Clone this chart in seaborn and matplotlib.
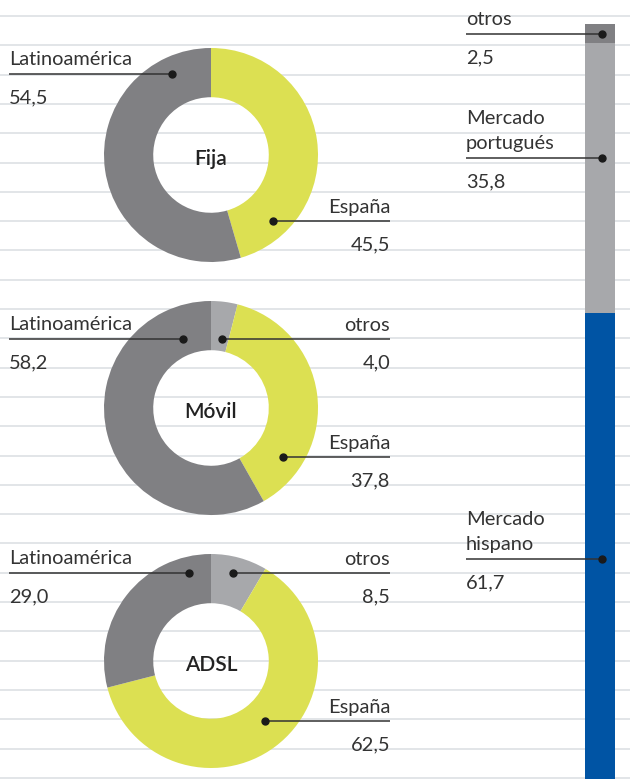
import matplotlib
matplotlib.use("Agg")
import matplotlib.pyplot as plt
import seaborn as sns
import numpy as np
import pandas as pd

# ---------------- data ----------------
donut_titles = ["Fija", "Móvil", "ADSL"]
donut_cats = ["otros", "España", "Latinoamérica"]
fija_vals = [0.0, 45.5, 54.5]
movil_vals = [4.0, 37.8, 58.2]
adsl_vals = [8.5, 62.5, 29.0]
donut_values = [fija_vals, movil_vals, adsl_vals]
donut_value_labels = [["", "45,5", "54,5"], ["4,0", "37,8", "58,2"], ["8,5", "62,5", "29,0"]]

bar_cats = ["Mercado\nhispano", "Mercado\nportugués", "otros"]
bar_vals = [61.7, 35.8, 2.5]
bar_value_labels = ["61,7", "35,8", "2,5"]

# ---------------- style ----------------
sns.set_theme(style="white")
plt.rcParams["font.family"] = ["Lato", "DejaVu Sans"]
TXT = "#333333"
GRID = "#dde0e4"
C_OTROS = "#a7a8ab"
C_ESP = "#dce052"
C_LAT = "#808083"
C_BLUE = "#0054a4"
donut_colors = {"otros": C_OTROS, "España": C_ESP, "Latinoamérica": C_LAT}
bar_colors = [C_BLUE, C_OTROS, C_LAT]

W, H = 630, 783
fig = plt.figure(figsize=(W / 100, H / 100), dpi=100)

def px_axes(x0, y0, w, h, z):
    return fig.add_axes([x0 / W, 1 - (y0 + h) / H, w / W, h / H], zorder=z)

# background grid lines
bg = px_axes(0, 0, W, H, 0)
bg.set_xlim(0, W); bg.set_ylim(H, 0); bg.axis("off")
for i in range(27):
    bg.axhline(16 + i * 29.3, color=GRID, lw=1.2)

# donuts
centers = [(211, 155), (211, 408), (211, 661)]
R = 107
for (cx, cy), vals in zip(centers, donut_values):
    ax = px_axes(cx - R, cy - R, 2 * R, 2 * R, 2)
    vv = [v for v in vals if v > 0]
    cc = [donut_colors[c] for c, v in zip(donut_cats, vals) if v > 0]
    ax.pie(vv, colors=cc, startangle=90, counterclock=False, radius=1,
           wedgeprops=dict(width=0.46, linewidth=0))
    ax.set_xlim(-1, 1); ax.set_ylim(-1, 1)
    ax.set_aspect("equal"); ax.axis("off")

# stacked bar
bax = px_axes(585, 24, 30, 755, 2)
bottom = 0
df = pd.DataFrame({"cat": bar_cats, "val": bar_vals})
for i, row in df.iterrows():
    sns.barplot(x=[0], y=[row["val"]], bottom=bottom, color=bar_colors[i],
                saturation=1, width=1, ax=bax, linewidth=0)
    bottom += row["val"]
bax.set_xlim(-0.5, 0.5); bax.set_ylim(0, 100); bax.axis("off")

# overlay annotations
ov = px_axes(0, 0, W, H, 5)
ov.set_xlim(0, W); ov.set_ylim(H, 0); ov.axis("off"); ov.patch.set_alpha(0)
FS = 14.4
FW = "normal"

def left_label(text, value, line_y, dot_x, x0=9):
    ov.plot([x0, dot_x], [line_y, line_y], color=TXT, lw=1.1, solid_capstyle="butt")
    ov.plot(dot_x, line_y, "o", color="#1a1a1a", ms=5)
    lines = text.split("\n")
    for k, t in enumerate(reversed(lines)):
        ov.text(x0, line_y - 9 - k * 25, t, ha="left", va="baseline", fontsize=FS,
                fontweight=FW, color=TXT)
    ov.text(x0, line_y + 29, value, ha="left", va="baseline", fontsize=FS,
            fontweight=FW, color=TXT)

def right_label(text, value, line_y, dot_x, x1=390):
    ov.plot([dot_x, x1], [line_y, line_y], color=TXT, lw=1.1, solid_capstyle="butt")
    ov.plot(dot_x, line_y, "o", color="#1a1a1a", ms=5)
    ov.text(x1, line_y - 8, text, ha="right", va="baseline", fontsize=FS,
            fontweight=FW, color=TXT)
    ov.text(x1, line_y + 29, value, ha="right", va="baseline", fontsize=FS,
            fontweight=FW, color=TXT)

# layout of donut callouts: (line_y, dot_x) for otros, España, Latinoamérica
callouts = [
    [None, (221, 273), (74, 172)],
    [(339, 222), (457, 283), (339, 183)],
    [(573, 233), (721, 265), (573, 189)],
]
for d, (title, (cx, cy)) in enumerate(zip(donut_titles, centers)):
    ov.text(cx, cy + 10, title, ha="center", va="baseline", fontsize=15,
            fontweight="semibold", color="#222222")
    for j, cat in enumerate(donut_cats):
        pos = callouts[d][j]
        if pos is None:
            continue
        ly, dx = pos
        if cat == "Latinoamérica":
            left_label(cat, donut_value_labels[d][j], ly, dx)
        else:
            right_label(cat, donut_value_labels[d][j], ly, dx)

# bar callouts
bar_lines = [559, 158, 34]
for cat, lab, ly in zip(bar_cats, bar_value_labels, bar_lines):
    left_label(cat, lab, ly, 602, x0=466)

fig.savefig("out.png", dpi=100, facecolor="white")
